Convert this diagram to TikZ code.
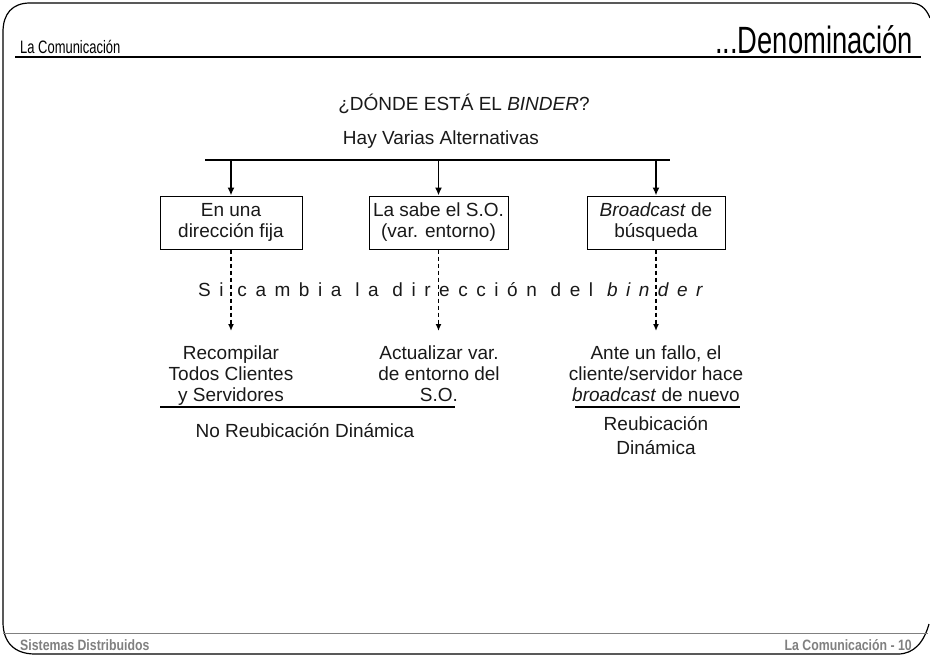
\documentclass[tikz,border=0pt]{standalone}
\usepackage{fontspec}
\setmainfont{Liberation Sans}
\newfontfamily\narrowfont[FakeStretch=0.72]{Liberation Sans}
\newfontfamily\footfont[FakeStretch=0.82]{Liberation Sans}
\newfontfamily\spacedfont[LetterSpace=45]{Liberation Sans}
\usetikzlibrary{arrows.meta}
\definecolor{footgray}{RGB}{128,128,128}
\definecolor{ink}{RGB}{25,25,25}
\tikzstyle{body}=[font=\fontsize{19}{21}\selectfont, text=ink, align=center, inner sep=0pt]
\tikzstyle{choice}=[body, draw=black, line width=1pt, minimum width=140pt, minimum height=53pt]
\tikzstyle{result}=[body, anchor=north]
\tikzstyle{foot}=[font=\footfont\fontsize{15}{15}\selectfont\bfseries, text=footgray, inner sep=0pt]
\tikzstyle{down}=[line width=1.6pt, -{Latex[length=8pt,width=7pt]}]
\tikzstyle{dashdown}=[line width=1.6pt, dash pattern=on 4pt off 3pt, -{Latex[length=7pt,width=6pt]}]

\begin{document}
\begin{tikzpicture}[x=1pt, y=-1pt]
        \useasboundingbox (0,0) rectangle (930,656);
        % frame
        \draw[line width=1.2pt] (930,18) .. controls (926,8) and (920,3) .. (910,3) -- (30,3)
            .. controls (12,3) and (3,14) .. (3,32) -- (3,622)
            .. controls (3,642) and (14,654) .. (35,654) -- (898,654)
            .. controls (914,654) and (924,642) .. (929,624);
        \draw[footgray, line width=0.8pt] (3,633) -- (928,633);
        \draw[line width=1.8pt] (15,57) -- (921,57);
        % header and footer
        \node[anchor=base west, inner sep=0pt, font=\narrowfont\fontsize{18}{18}\selectfont] (sect) at (20,53) {La Comunicación};
        \node[anchor=base east, inner sep=0pt, font=\narrowfont\fontsize{38}{38}\selectfont] (title) at (913,53) {...Denominación};
        \node[foot, anchor=west] (course) at (20,645) {Sistemas Distribuidos};
        \node[foot, anchor=east] (page) at (912,645) {La Comunicación - 10};
        % question
        \node[body] (where) at (464,104) {¿DÓNDE ESTÁ EL \textit{BINDER}?};
        \node[body] (alts) at (441,140) {Hay Varias Alternativas};
        \coordinate (barL) at (205,160);
        \coordinate (barR) at (670,160);
        \draw[line width=1.6pt] (barL) -- (barR);
        % alternatives
        \node[choice, minimum width=142pt] (fixed) at (231,222.5) {En una\\dirección fija};
        \node[choice, minimum width=139pt] (os) at (438.5,222.5) {La sabe el S.O.\\(var. entorno)};
        \node[choice, minimum width=138pt] (bcast) at (656,222.5) {\textit{Broadcast} de\\búsqueda};
        \draw[down] (fixed |- barL) -- (fixed.north);
        \draw[down] (os |- barL) -- (os.north);
        \draw[down] (bcast |- barL) -- (bcast.north);
        \node[anchor=west, inner sep=0pt, text=ink, font=\spacedfont\fontsize{19}{21}\selectfont] (change) at (198,290) {Si cambia la dirección del \textit{binder}};
        % consequences
        \coordinate (t1) at (231,331);
        \coordinate (t2) at (438.5,331);
        \coordinate (t3) at (656,331);
        \draw[dashdown] (fixed.south) -- (t1);
        \draw[dashdown] (os.south) -- (t2);
        \draw[dashdown] (bcast.south) -- (t3);
        \node[result] (recomp) at (231,346) {Recompilar\\Todos Clientes\\y Servidores};
        \node[result] (update) at (439,346) {Actualizar var.\\de entorno del\\S.O.};
        \node[result] (retry) at (656,346) {Ante un fallo, el\\cliente/servidor hace\\\textit{broadcast} de nuevo};
        \draw[line width=1.4pt] (160,407) -- (455,407);
        \draw[line width=1.4pt] (575,407) -- (740,407);
        \node[body] (static) at (305,431) {No Reubicación Dinámica};
        \node[body, font=\fontsize{19}{24}\selectfont] (dynamic) at (656,436) {Reubicación\\Dinámica};
\end{tikzpicture}
\end{document}
